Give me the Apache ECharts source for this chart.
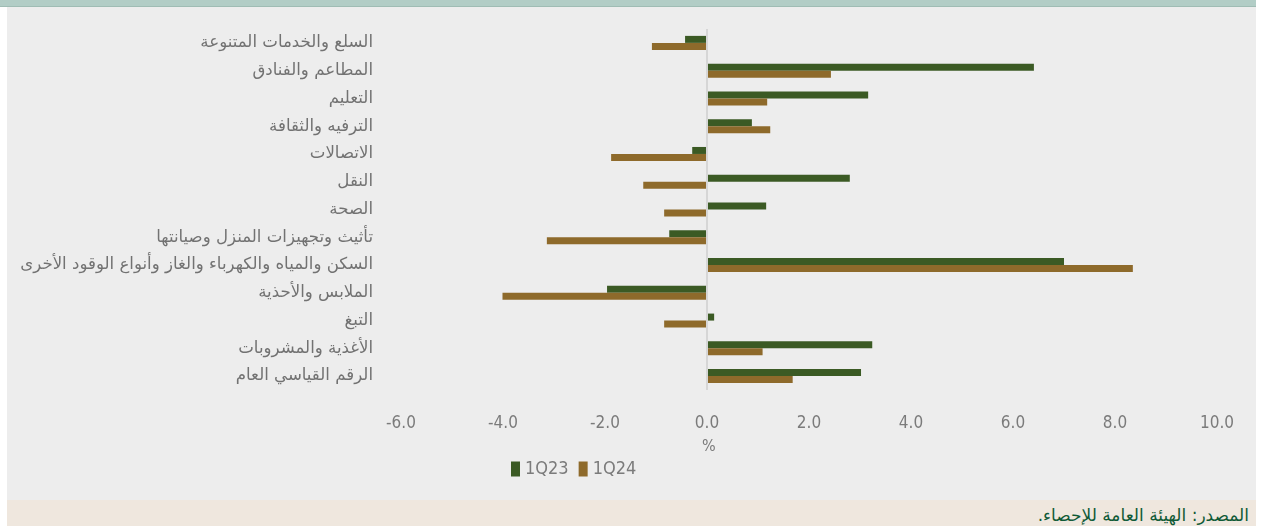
<!DOCTYPE html>
<html>
<head>
<meta charset="utf-8">
<script src="https://cdn.jsdelivr.net/npm/echarts@6/dist/echarts.min.js"></script>
<style>
  html, body { margin: 0; padding: 0; background: #ffffff; }
  #topband { position: absolute; left: 0; top: 0; width: 1256px; height: 6px; background: #b2cdc6; border-bottom: 1px solid #9fbcb4; }
  #panel { position: absolute; left: 7px; top: 7px; width: 1249px; height: 493px; background: #ededed; }
  #source { position: absolute; left: 7px; top: 500px; width: 1249px; height: 26px; background: #efe7de;
            direction: rtl; font-family: "DejaVu Sans", sans-serif; font-size: 17px;
            color: #0f5a36; box-sizing: border-box; padding-right: 7px; line-height: 30px; }
  #main { position: absolute; left: 0; top: 0; width: 1264px; height: 526px; }
</style>
</head>
<body>
<div id="topband"></div>
<div id="panel"></div>
<div id="source">المصدر: الهيئة العامة للإحصاء.</div>
<div id="main"></div>
<script>
// categories, top to bottom
const categories = [
    'السلع والخدمات المتنوعة',
    'المطاعم والفنادق',
    'التعليم',
    'الترفيه والثقافة',
    'الاتصالات',
    'النقل',
    'الصحة',
    ' تأثيث وتجهيزات المنزل وصيانتها',
    'السكن والمياه والكهرباء والغاز وأنواع الوقود الأخرى',
    'الملابس والأحذية',
    'التبغ',
    'الأغذية والمشروبات',
    'الرقم القياسي العام'
];
const q23 = [-0.43, 6.41, 3.16, 0.88, -0.29, 2.80, 1.16, -0.74, 7.00, -1.96, 0.14, 3.24, 3.02];
const q24 = [-1.08, 2.43, 1.18, 1.24, -1.88, -1.25, -0.84, -3.14, 8.35, -4.01, -0.84, 1.09, 1.68];
const seriesNames = ['1Q23', '1Q24'];
const colors = ['#3b5a24', '#8e6a2b'];

const myChart = echarts.init(document.getElementById('main'), null, { renderer: 'canvas' });
const axisFont = '"DejaVu Sans Condensed", "DejaVu Sans", sans-serif';

myChart.setOption({
    color: colors,
    animation: false,
    grid: { left: 401, right: 47, top: 29, bottom: 136, containLabel: false },
    legend: {
        data: seriesNames,
        left: 511,
        top: 460,
        padding: 0,
        itemWidth: 9,
        itemHeight: 15,
        itemGap: 10,
        icon: 'rect',
        textStyle: { color: '#7b7b7b', fontSize: 18, fontFamily: axisFont }
    },
    graphic: [{
        type: 'text',
        left: 702,
        top: 439,
        style: { text: '%', fill: '#7b7b7b', fontSize: 16, fontFamily: axisFont }
    }],
    xAxis: {
        type: 'value',
        min: -6,
        max: 10,
        interval: 2,
        axisLine: { show: false },
        axisTick: { show: false },
        splitLine: { show: false },
        axisLabel: {
            color: '#7b7b7b',
            fontSize: 17,
            fontFamily: axisFont,
            margin: 25,
            formatter: v => v.toFixed(1)
        }
    },
    yAxis: {
        type: 'category',
        inverse: true,
        data: categories,
        axisLine: { show: false },
        axisTick: { show: false },
        axisLabel: {
            color: '#727272',
            fontSize: 16.6,
            fontFamily: '"DejaVu Sans", sans-serif',
            margin: 28
        }
    },
    series: [
        {
            name: seriesNames[0],
            type: 'bar',
            data: q23,
            barWidth: 7,
            barGap: '0%',
            markLine: {
                silent: true,
                symbol: 'none',
                label: { show: false },
                lineStyle: { color: '#d6d6d6', width: 2, type: 'solid' },
                data: [{ xAxis: 0 }]
            }
        },
        {
            name: seriesNames[1],
            type: 'bar',
            data: q24,
            barWidth: 7,
            barGap: '0%'
        }
    ]
});
</script>
</body>
</html>
